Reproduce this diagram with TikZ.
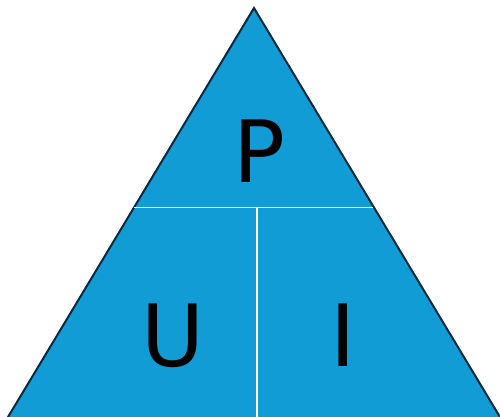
\documentclass[tikz,border=0pt]{standalone}
\usepackage{fontspec}
\setmainfont{DejaVu Sans}
\definecolor{triblue}{HTML}{129CD5}
\definecolor{edge}{HTML}{0B2A3F}
\begin{document}
\begin{tikzpicture}[x=1pt,y=-1pt,
  letter/.style={inner sep=0pt, anchor=base, font=\fontsize{86}{86}\selectfont, text=black}]
\useasboundingbox (0,0) rectangle (500,417);
\begin{scope}
\clip (0,0) rectangle (500,417);
\coordinate (apex) at (254,8);
\coordinate (bl) at (5,422);
\coordinate (br) at (503,422);
\draw[edge, line width=2pt, fill=triblue, line join=miter] (bl) -- (apex) -- (br) -- cycle;
\coordinate (hl) at (134,207.5);
\coordinate (hr) at (373,207.5);
\coordinate (vt) at (257,207.5);
\coordinate (vb) at (257,420);
\draw[white, line width=1.3pt] (hl) -- (hr);
\draw[white, line width=1.3pt] (vt) -- (vb);
\end{scope}
\node[letter] (p) at (259,182) {P};
\node[letter] (u) at (172.5,366) {U};
\node[letter] (i) at (343.5,366) {I};
\end{tikzpicture}
\end{document}
